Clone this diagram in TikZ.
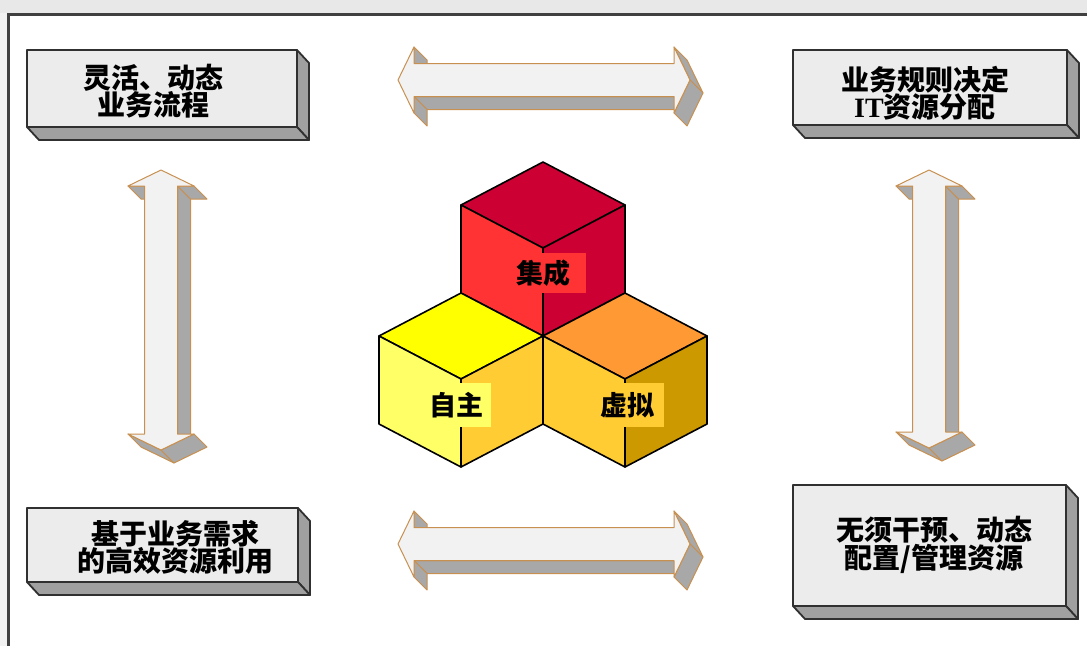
\documentclass[tikz,border=0pt]{standalone}
\usepackage{fontspec}
\newfontfamily\cjk{Noto Sans CJK SC}
\newfontfamily\latinserif{Liberation Serif}

\definecolor{bandgray}{HTML}{E8E8E8}
\definecolor{framedark}{HTML}{404040}
\definecolor{facelight}{HTML}{ECECEC}
\definecolor{sidegray}{HTML}{A0A0A0}
\definecolor{edgedark}{HTML}{303030}
\definecolor{arrowlight}{HTML}{F2F2F2}
\definecolor{arrowgray}{HTML}{A8A8A8}
\definecolor{arrowedge}{HTML}{C89050}
\definecolor{redtop}{HTML}{CC0033}
\definecolor{redleft}{HTML}{FF3333}
\definecolor{redright}{HTML}{CC0033}
\definecolor{yeltop}{HTML}{FFFF00}
\definecolor{yelleft}{HTML}{FFFF66}
\definecolor{yelright}{HTML}{FFCC33}
\definecolor{orgtop}{HTML}{FF9933}
\definecolor{orgleft}{HTML}{FFCC33}
\definecolor{orgright}{HTML}{CC9900}

\tikzset{
  frontface/.style={fill=facelight, draw=edgedark, line width=1.8pt, line join=round},
  sideface/.style={fill=sidegray, draw=edgedark, line width=1.8pt, line join=round},
  boxtext/.style={font=\cjk\bfseries\fontsize{28}{27}\selectfont, align=center,
    inner sep=0pt, text=black},
  arrfront/.style={fill=arrowlight, draw=arrowedge, line width=1pt, line join=round},
  arrside/.style={fill=arrowgray, draw=arrowedge, line width=1pt, line join=round},
  cubeface/.style={draw=black, line width=1.6pt, line join=round},
  cubelabel/.style={font=\cjk\bfseries\fontsize{27}{27}\selectfont, inner sep=0pt,
    text=black},
}

% raised panel: front face (#1,#2)-(#3,#4), pushed back towards lower right
\newcommand\raisedpanel[4]{%
  \draw[sideface] (#3,#2) -- ({#3+12},{#2+13}) -- ({#3+12},{#4+13}) -- (#3,#4) -- cycle;
  \draw[sideface] (#1,#4) -- (#3,#4) -- ({#3+12},{#4+13}) -- ({#1+12},{#4+13}) -- cycle;
  \draw[frontface] (#1,#2) rectangle (#3,#4);
}

% solid double arrow from the outline points pA..pK
\newcommand\arrowbody{%
  \draw[arrside] (pI) -- (pJ) -- ([shift={(13,13)}]pJ) -- ([shift={(13,13)}]pI) -- cycle;
  \draw[arrside] (pJ) -- (pK) -- ([shift={(13,13)}]pK) -- ([shift={(13,13)}]pJ) -- cycle;
  \draw[arrside] (pB) -- (pC) -- ([shift={(13,13)}]pC) -- ([shift={(13,13)}]pB) -- cycle;
  \draw[arrside] (pF) -- (pG) -- ([shift={(13,13)}]pG) -- ([shift={(13,13)}]pF) -- cycle;
  \draw[arrside] (pG) -- (pH) -- ([shift={(13,13)}]pH) -- ([shift={(13,13)}]pG) -- cycle;
  \draw[arrfront] (pA) -- (pB) -- (pC) -- (pE) -- (pF) -- (pG) -- (pH) -- (pI)
    -- (pJ) -- (pK) -- cycle;
}
% horizontal: left tip x, right tip x, centre y
\newcommand\harrow[3]{%
  \coordinate (pA) at (#1,#3);
  \coordinate (pB) at ({#1+16},{#3-33});
  \coordinate (pC) at ({#1+16},{#3-16.5});
  \coordinate (pE) at ({#2-16},{#3-16.5});
  \coordinate (pF) at ({#2-16},{#3-33});
  \coordinate (pG) at (#2,#3);
  \coordinate (pH) at ({#2-16},{#3+33});
  \coordinate (pI) at ({#2-16},{#3+16.5});
  \coordinate (pJ) at ({#1+16},{#3+16.5});
  \coordinate (pK) at ({#1+16},{#3+33});
  \arrowbody
}
% vertical: top tip y, bottom tip y, centre x
\newcommand\varrow[3]{%
  \coordinate (pA) at (#3,#1);
  \coordinate (pB) at ({#3-33},{#1+16});
  \coordinate (pC) at ({#3-16.5},{#1+16});
  \coordinate (pE) at ({#3-16.5},{#2-16});
  \coordinate (pF) at ({#3-33},{#2-16});
  \coordinate (pG) at (#3,#2);
  \coordinate (pH) at ({#3+33},{#2-16});
  \coordinate (pI) at ({#3+16.5},{#2-16});
  \coordinate (pJ) at ({#3+16.5},{#1+16});
  \coordinate (pK) at ({#3+33},{#1+16});
  \arrowbody
}

% isometric cube with top vertex (#1,#2)
\newcommand\isocube[5]{%
  \draw[cubeface, fill=#3] (#1,#2) -- ({#1-82},{#2+43}) -- (#1,{#2+86}) -- ({#1+82},{#2+43}) -- cycle;
  \draw[cubeface, fill=#4] ({#1-82},{#2+43}) -- (#1,{#2+86}) -- (#1,{#2+174}) -- ({#1-82},{#2+131}) -- cycle;
  \draw[cubeface, fill=#5] (#1,{#2+86}) -- ({#1+82},{#2+43}) -- ({#1+82},{#2+131}) -- (#1,{#2+174}) -- cycle;
}

\begin{document}
\begin{tikzpicture}[x=1pt,y=-1pt]
  \useasboundingbox (0,0) rectangle (1087,646);
  \fill[white] (0,0) rectangle (1087,646);

  % window frame
  \fill[bandgray] (0,0) rectangle (1087,13);
  \fill[bandgray!60!white] (0,13) rectangle (7,646);
  \draw[framedark, line width=3pt] (8.5,646) -- (8.5,14.5) -- (1087,14.5);

  % four raised panels
  \raisedpanel{27}{50}{297}{127}
  \raisedpanel{793}{50}{1067}{125}
  \raisedpanel{27}{508}{298}{582}
  \raisedpanel{793}{485}{1066}{606}

  \node[boxtext] (flex) at (153,91) {灵活、动态\\业务流程};
  \node[boxtext] (rules) at (925,93) {业务规则决定\\{\latinserif\bfseries IT}资源分配};
  \node[boxtext] (demand) at (175,547) {基于业务需求\\的高效资源利用};
  \node[boxtext] (auto) at (934,545) {无须干预、动态\\配置/管理资源};

  % double arrows between the panels
  \harrow{398}{690}{80}
  \harrow{398}{690}{544}
  \varrow{170}{450}{161}
  \varrow{170}{448}{929}

  % three cubes
  \isocube{543}{162}{redtop}{redleft}{redright}
  \isocube{461}{293}{yeltop}{yelleft}{yelright}
  \isocube{625}{293}{orgtop}{orgleft}{orgright}

  \node[cubelabel, fill=redleft, minimum width=86pt, minimum height=40pt] (integ) at (543,273) {集成};
  \node[cubelabel, fill=yelleft, minimum width=70pt, minimum height=44pt] (autonomy) at (456,405) {自主};
  \node[cubelabel, fill=orgleft, minimum width=74pt, minimum height=44pt] (virt) at (627,405) {虚拟};
\end{tikzpicture}
\end{document}
